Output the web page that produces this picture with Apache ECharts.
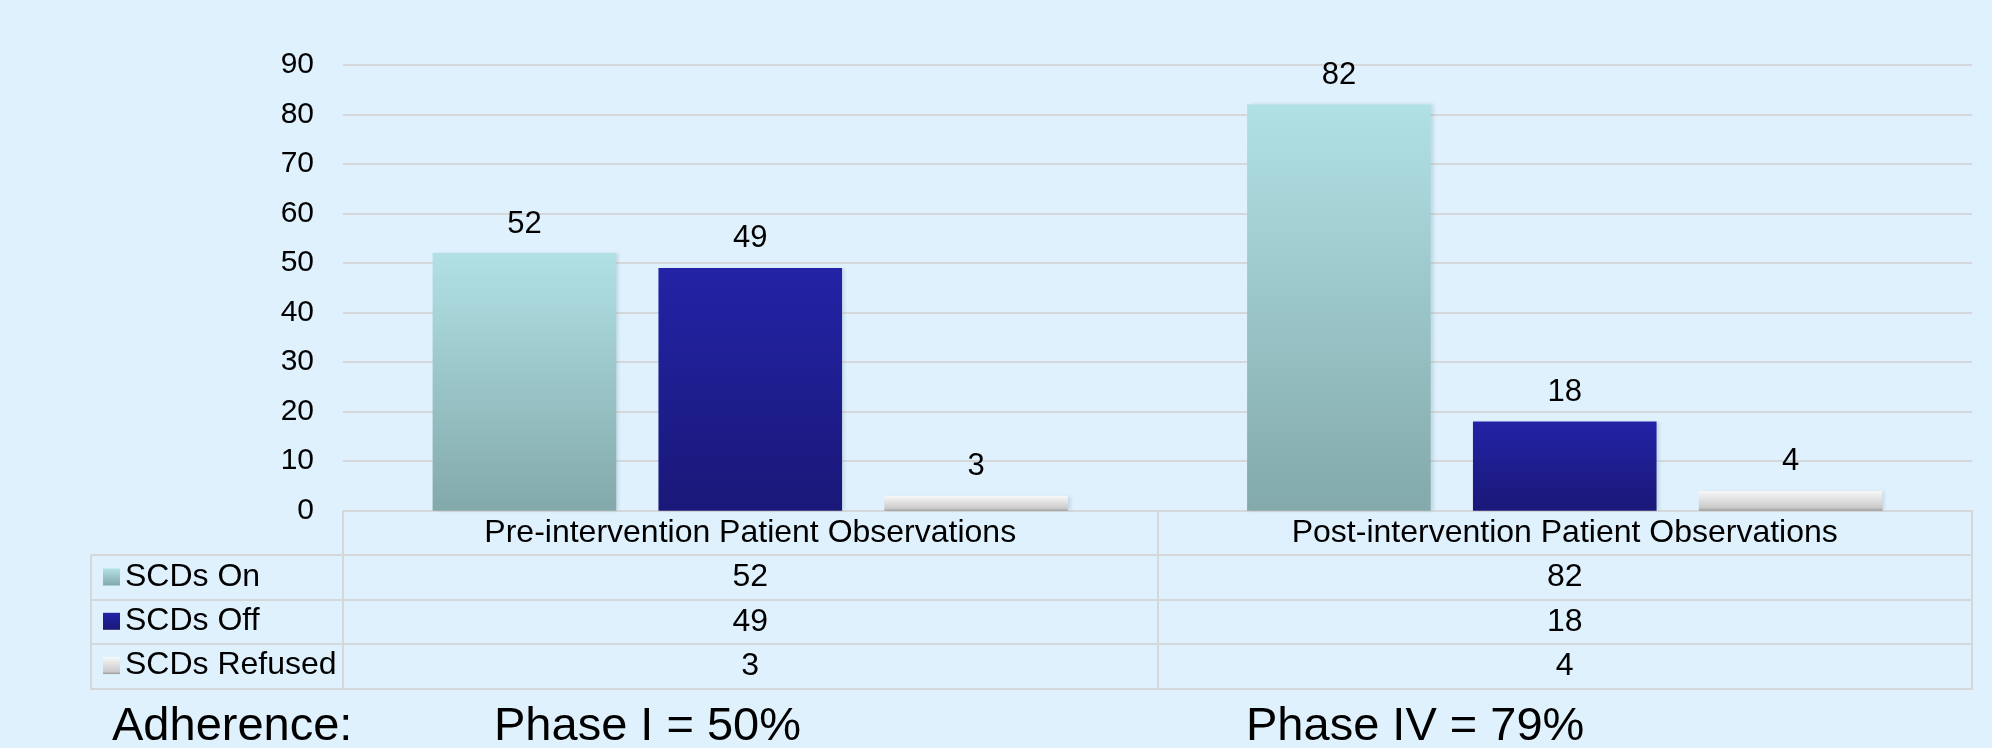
<!DOCTYPE html>
<html>
<head>
<meta charset="utf-8">
<script src="https://cdn.jsdelivr.net/npm/echarts@6/dist/echarts.min.js"></script>
<style>
html,body{margin:0;padding:0;background:#dff1fd;}
#chart{width:1992px;height:748px;}
</style>
</head>
<body>
<div id="chart"></div>
<script>
// ---- data ----
const categories = ['Pre-intervention Patient Observations', 'Post-intervention Patient Observations'];
const seriesNames = ['SCDs On', 'SCDs Off', 'SCDs Refused'];
const scdsOn = [52, 82];
const scdsOff = [49, 18];
const scdsRefused = [3, 4];
const yMin = 0, yMax = 90, yInterval = 10;
const adherenceLabel = 'Adherence:';
const phaseLabels = ['Phase I = 50%', 'Phase IV = 79%'];

// ---- styles ----
const FONT = '"Liberation Sans", Arial, sans-serif';
const LINE = '#d5d8da';
const ROW = 44.5;
const TFS = 32;
const seriesValues = [scdsOn, scdsOff, scdsRefused];
const colors = [
  {type:'linear',x:0,y:0,x2:0,y2:1,colorStops:[{offset:0,color:'#b1e1e5'},{offset:1,color:'#83a9aa'}]},
  {type:'linear',x:0,y:0,x2:0,y2:1,colorStops:[{offset:0,color:'#2323a6'},{offset:1,color:'#1a1878'}]},
  {type:'linear',x:0,y:0,x2:0,y2:1,colorStops:[{offset:0,color:'#f8f8f8'},{offset:0.85,color:'#cacaca'},{offset:1,color:'#9a9a9a'}]}
];

const chart = echarts.init(document.getElementById('chart'), null, {renderer:'canvas'});

const lineStyle = {color: LINE, width: 2};
const xAxes = [];
// main grid: header row with category names
xAxes.push({
  type:'category', gridIndex:0, data:categories, position:'bottom',
  axisLine:{show:true, onZero:false, lineStyle},
  axisTick:{show:true, length:ROW, alignWithLabel:false, lineStyle},
  axisLabel:{interval:0, fontSize:TFS, fontFamily:FONT, color:'#000', margin:22, verticalAlign:'middle'},
  splitLine:{show:false}
});
// value rows
seriesValues.forEach((vals, k) => {
  xAxes.push({
    type:'category', gridIndex:0, data:categories, position:'bottom', offset:ROW*(k+1),
    axisLine:{show:true, onZero:false, lineStyle},
    axisTick:{show:true, length:ROW, alignWithLabel:false, lineStyle},
    axisLabel:{interval:0, fontSize:TFS, fontFamily:FONT, color:'#000', margin:22, verticalAlign:'middle',
      formatter:(v, idx) => String(vals[idx])},
    splitLine:{show:false}
  });
});
// bottom border
xAxes.push({
  type:'category', gridIndex:0, data:categories, position:'bottom', offset:ROW*4,
  axisLine:{show:true, onZero:false, lineStyle}, axisTick:{show:false}, axisLabel:{show:false}
});
// label column grid (grid 1)
seriesValues.forEach((vals, k) => {
  xAxes.push({
    type:'category', gridIndex:1, data:[''], position:'bottom', offset:ROW*(k+1),
    axisLine:{show:true, onZero:false, lineStyle},
    axisTick:{show:true, length:ROW, alignWithLabel:false, lineStyle},
    axisLabel:{show:false}
  });
});
xAxes.push({
  type:'category', gridIndex:1, data:[''], position:'bottom', offset:ROW*4,
  axisLine:{show:true, onZero:false, lineStyle}, axisTick:{show:false}, axisLabel:{show:false}
});

const option = {
  backgroundColor:'#dff1fd',
  animation:false,
  textStyle:{fontFamily:FONT},
  grid:[
    {left:343, right:20, top:64.8, bottom:237.3, containLabel:false},
    {left:91, width:252, top:500, bottom:237.3, containLabel:false}
  ],
  legend:{
    orient:'vertical', left:103, top:561, padding:0,
    itemWidth:17, itemHeight:17, itemGap:12.3, icon:'rect',
    selectedMode:false,
    textStyle:{fontSize:TFS, lineHeight:30, fontFamily:FONT, color:'#000'},
    data:seriesNames
  },
  xAxis:xAxes,
  yAxis:[
    {type:'value', gridIndex:0, min:yMin, max:yMax, interval:yInterval,
     axisLine:{show:false}, axisTick:{show:false},
     axisLabel:{fontSize:30, fontFamily:FONT, color:'#000', margin:29},
     splitLine:{show:true, lineStyle:{color:LINE, width:2}}},
    {type:'value', gridIndex:1, min:0, max:1, show:false}
  ],
  series: seriesNames.map((name, i) => ({
    name, type:'bar', xAxisIndex:0, yAxisIndex:0,
    data: seriesValues[i],
    barGap:'23%', barCategoryGap:'22%',
    itemStyle:{color:colors[i], shadowColor:'rgba(120,150,170,0.25)', shadowBlur:3, shadowOffsetX:3},
    label:{show:true, position:'top', distance:14, fontSize:31, lineHeight:30, fontFamily:FONT, color:'#000'}
  })),
  graphic:[
    {type:'text', left:112, top:704, style:{text:adherenceLabel, fontSize:47, fontFamily:FONT, fill:'#000'}},
    {type:'text', left:494, top:704, style:{text:phaseLabels[0], fontSize:47, fontFamily:FONT, fill:'#000'}},
    {type:'text', left:1246, top:704, style:{text:phaseLabels[1], fontSize:47, fontFamily:FONT, fill:'#000'}}
  ]
};
chart.setOption(option);
</script>
</body>
</html>
